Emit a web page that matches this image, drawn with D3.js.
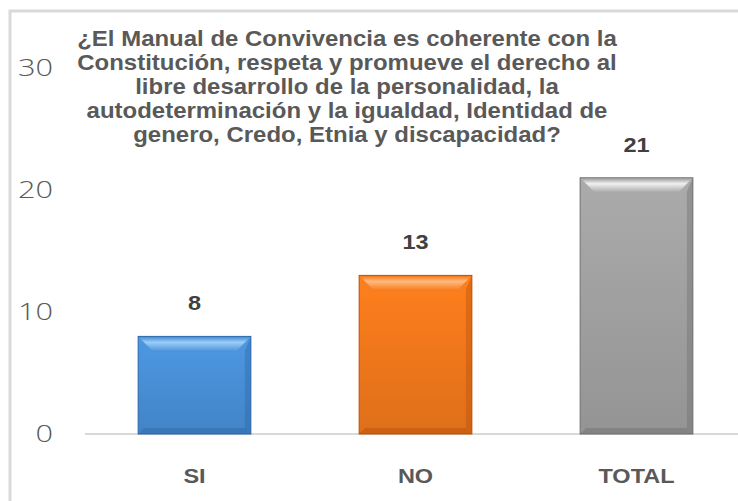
<!DOCTYPE html>
<html>
<head>
<meta charset="utf-8">
<script src="https://cdn.jsdelivr.net/npm/d3@7"></script>
<style>
  body { margin: 0; background: #fff; }
  svg { display: block; }
</style>
</head>
<body>
<svg width="738" height="501"></svg>
<script>
// data
var categories = ["SI", "NO", "TOTAL"];
var values = [8, 13, 21];
var yTicks = [0, 10, 20, 30];
var titleLines = [
  "¿El Manual de Convivencia es coherente con la",
  "Constitución, respeta y promueve el derecho al",
  "libre desarrollo de la personalidad, la",
  "autodeterminación y la igualdad, Identidad de",
  "genero, Credo, Etnia y discapacidad?"
];
var barColors = [
  { light: "#9ccdf8", mid: "#4a93dc", dark: "#2c66a6" },
  { light: "#ffbb80", mid: "#f77b1c", dark: "#b9500a" },
  { light: "#f0f0f0", mid: "#a5a5a5", dark: "#6e6e6e" }
];

var svg = d3.select("svg");

// outer frame, cut by the image edge
svg.append("rect")
  .attr("x", 10).attr("y", 11)
  .attr("width", 800).attr("height", 600)
  .attr("fill", "none")
  .attr("stroke", "#d9d9d9")
  .attr("stroke-width", 3);

var x = d3.scaleBand()
  .domain(categories)
  .range([84, 747])
  .paddingInner(0.49)
  .paddingOuter(0.245);

var y = d3.scaleLinear()
  .domain([0, 30])
  .range([434, 68]);

var defs = svg.append("defs");
barColors.forEach(function (c, i) {
  var gr = defs.append("linearGradient")
    .attr("id", "g" + i)
    .attr("x1", 0).attr("y1", 0).attr("x2", 0).attr("y2", 1);
  gr.append("stop").attr("offset", "0%").attr("stop-color", d3.color(c.mid).brighter(0.1));
  gr.append("stop").attr("offset", "100%").attr("stop-color", d3.color(c.mid).darker(0.3));
  var tg = defs.append("linearGradient")
    .attr("id", "t" + i)
    .attr("x1", 0).attr("y1", 0).attr("x2", 0).attr("y2", 1);
  tg.append("stop").attr("offset", "0%").attr("stop-color", c.mid);
  tg.append("stop").attr("offset", "35%").attr("stop-color", c.light);
  tg.append("stop").attr("offset", "100%").attr("stop-color", c.mid);
});

// y axis labels
var yAxis = d3.axisLeft(y).tickValues(yTicks).tickSize(0).tickPadding(0);
var ya = svg.append("g").attr("transform", "translate(53,0)").call(yAxis);
ya.select(".domain").remove();
ya.selectAll("text")
  .attr("fill", "#595959")
  .attr("transform", "scale(1.28,1)")
  .style("font-family", "'Open Sans', 'Liberation Sans', sans-serif")
  .style("font-weight", "300")
  .style("font-size", "24px");

// baseline
svg.append("line")
  .attr("x1", 85).attr("x2", 738)
  .attr("y1", y(0)).attr("y2", y(0))
  .attr("stroke", "#d9d9d9").attr("stroke-width", 2);

// bars with bevel
var bars = svg.selectAll("g.bar")
  .data(values)
  .enter().append("g").attr("class", "bar");

bars.append("rect")
  .attr("x", function (d, i) { return x(categories[i]); })
  .attr("y", function (d) { return y(d); })
  .attr("width", x.bandwidth())
  .attr("height", function (d) { return y(0) - y(d); })
  .attr("fill", function (d, i) { return "url(#g" + i + ")"; })
  .attr("stroke", function (d, i) { return barColors[i].dark; })
  .attr("stroke-width", 1);

var bv = 14;
// top bevel
bars.append("path")
  .attr("d", function (d, i) {
    var x0 = x(categories[i]) + 1, x1 = x0 + x.bandwidth() - 2, t = y(d) + 1;
    return "M" + x0 + "," + t + "L" + x1 + "," + t + "L" + (x1 - bv) + "," + (t + bv) + "L" + (x0 + bv) + "," + (t + bv) + "Z";
  })
  .attr("fill", function (d, i) { return "url(#t" + i + ")"; });
// right bevel
bars.append("path")
  .attr("d", function (d, i) {
    var x1 = x(categories[i]) + x.bandwidth(), t = y(d), b = y(0);
    return "M" + x1 + "," + t + "L" + x1 + "," + b + "L" + (x1 - 6) + "," + (b - 6) + "L" + (x1 - 6) + "," + (t + bv) + "Z";
  })
  .attr("fill", function (d, i) { return barColors[i].dark; })
  .attr("opacity", 0.4);
// bottom bevel
bars.append("path")
  .attr("d", function (d, i) {
    var x0 = x(categories[i]), x1 = x0 + x.bandwidth(), b = y(0);
    return "M" + x0 + "," + b + "L" + x1 + "," + b + "L" + (x1 - 6) + "," + (b - 6) + "L" + (x0 + 6) + "," + (b - 6) + "Z";
  })
  .attr("fill", function (d, i) { return barColors[i].dark; })
  .attr("opacity", 0.45);

// value labels
svg.selectAll("text.val")
  .data(values)
  .enter().append("text")
  .attr("class", "val")
  .attr("transform", function (d, i) {
    return "translate(" + (x(categories[i]) + x.bandwidth() / 2) + "," + (y(d) - 26) + ") scale(1.12,1)";
  })
  .attr("text-anchor", "middle")
  .attr("fill", "#404040")
  .style("font-family", "'Liberation Sans', sans-serif")
  .style("font-weight", "bold")
  .style("font-size", "21px")
  .text(function (d) { return d; });

// category labels
var xAxis = d3.axisBottom(x).tickSize(0).tickPadding(0);
var xa = svg.append("g").attr("transform", "translate(0,483)").call(xAxis);
xa.select(".domain").remove();
xa.selectAll("text")
  .attr("dy", 0)
  .attr("fill", "#595959")
  .attr("transform", "scale(1.12,1)")
  .style("font-family", "'Liberation Sans', sans-serif")
  .style("font-weight", "bold")
  .style("font-size", "21px");

// title
var title = svg.append("g");
var tt = title.append("text")
  .attr("text-anchor", "middle")
  .attr("fill", "#595959")
  .style("font-family", "'Liberation Sans', sans-serif")
  .style("font-size", "22px")
  .style("font-weight", "bold");
tt.selectAll("tspan")
  .data(titleLines)
  .enter().append("tspan")
  .attr("x", 0)
  .attr("y", function (d, i) { return 46 + i * 24; })
  .text(function (d) { return d; });
var w1 = tt.select("tspan").node().getComputedTextLength();
title.attr("transform", "translate(347,0) scale(" + (540 / w1) + ",1)");
</script>
</body>
</html>
